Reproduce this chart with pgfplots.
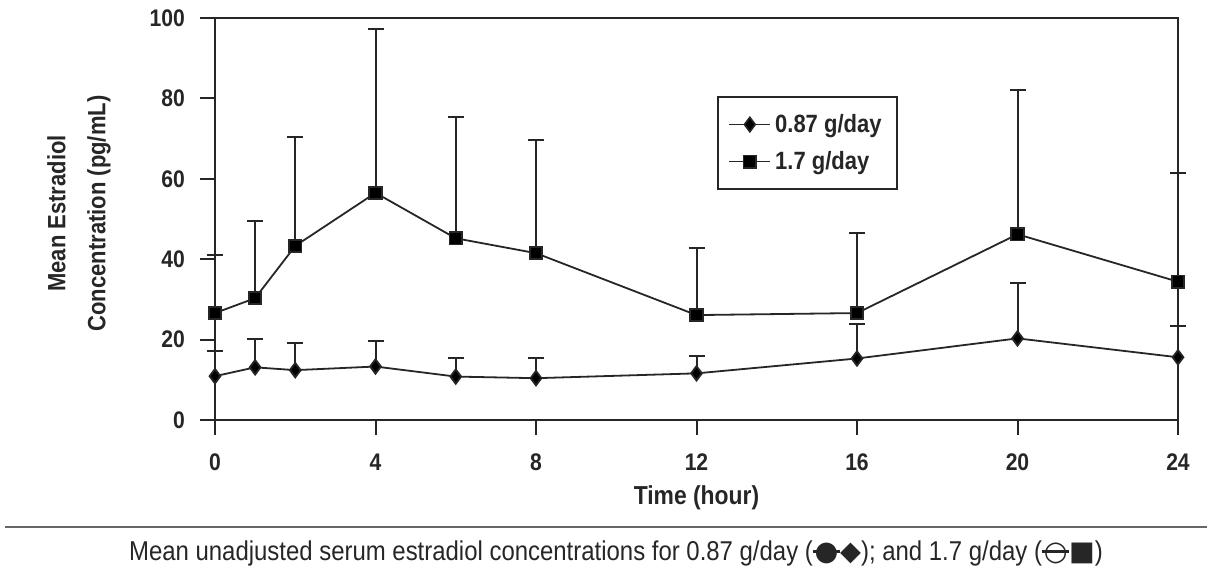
\documentclass[border=0pt]{standalone}
\usepackage{pgfplots}
\usepackage{pgfplotstable}
\pgfplotsset{compat=1.18}
\usepackage{fontspec}
\setmainfont{Liberation Sans}[FakeStretch=0.88]
\newfontfamily\sym{DejaVu Sans}
\pgfplotstableread{
t y e
0 10.9 6.3
1 13.1 7.0
2 12.4 6.8
4 13.3 6.4
6 10.8 4.7
8 10.4 5.1
12 11.6 4.3
16 15.3 8.6
20 20.3 13.9
24 15.6 7.8
}\lowdose
\pgfplotstableread{
t y e
0 26.6 14.4
1 30.3 19.3
2 43.3 27.0
4 56.5 40.7
6 45.2 30.2
8 41.5 28.2
12 26.1 16.8
16 26.6 20.0
20 46.2 36.0
24 34.4 27.1
}\highdose
\begin{document}
\begin{tikzpicture}[x=1pt,y=1pt]
\path[use as bounding box] (0,0) rectangle (606,286.5);
\begin{axis}[
  at={(107.5pt,76.5pt)}, anchor=south west,
  scale only axis, width=481.5pt, height=201pt,
  xmin=0, xmax=24, ymin=0, ymax=100,
  xtick={0,4,...,24}, ytick={0,20,...,100},
  xtick pos=bottom, ytick pos=left,
  tick align=outside, major tick length=7.5pt,
  tick style={line width=1pt, black!85},
  axis line style={line width=1pt, black!85},
  clip=false,
  ticklabel style={font=\bfseries\fontsize{12}{14}\selectfont, text=black!85},
  xticklabel style={yshift=-6pt},
  yticklabel style={xshift=-4pt},
  /pgf/number format/assume math mode=true,
  xlabel={Time (hour)},
  xlabel style={at={(axis description cs:0.5,0)}, anchor=center, yshift=-39pt, font=\bfseries\fontsize{13}{15}\selectfont, text=black!85},
  ylabel={Mean Estradiol\\Concentration (pg/mL)},
  ylabel style={at={(axis description cs:0,0.5)}, anchor=center, xshift=2.75pt, yshift=68pt, align=center, font=\bfseries\fontsize{12.5}{20}\selectfont, text=black!85},
  legend style={at={(axis cs:12.5,80.6)}, anchor=north west, draw=black!85, line width=1pt, font=\bfseries\fontsize{12.5}{14}\selectfont, text=black!85, inner xsep=5.5pt, inner ysep=6.5pt, row sep=4pt, legend cell align=left},
  legend image code/.code={\draw[mark repeat=2,mark phase=2] plot coordinates {(0pt,0pt) (10.25pt,0pt) (20.5pt,0pt)};},
  legend image post style={line width=0.8pt},
  error bars/error bar style={line width=1pt, black!85},
  error bars/error mark options={rotate=90, mark size=4pt, line width=1pt, black!85},
  every axis plot/.append style={line width=0.9pt, black!85},
]
\addplot[mark=diamond*, mark size=3.6pt, mark options={solid, fill=black},
  error bars/.cd, y dir=plus, y explicit, error mark=-]
  table[x=t, y=y, y error=e] {\lowdose};
\addlegendentry{0.87 g/day\hspace{6pt}}
\addplot[mark=square*, mark size=3.1pt, mark options={solid, fill=black},
  error bars/.cd, y dir=plus, y explicit, error mark=-]
  table[x=t, y=y, y error=e] {\highdose};
\addlegendentry{1.7 g/day}
\end{axis}
\draw[line width=1.2pt, black!60] (2.5,23) -- (603.5,23);
\node[anchor=base, font=\fontsize{13.6}{15}\selectfont, text=black!85, inner sep=0pt] at (308,6) {Mean unadjusted serum estradiol concentrations for 0.87 g/day ({\sym\ooalign{\hfil\rule[0.3em]{1.0em}{0.09em}\hfil\cr\hfil●\hfil}◆}); and 1.7 g/day ({\sym\ooalign{\hfil\rule[0.3em]{1.0em}{0.09em}\hfil\cr\hfil○\hfil}■})};
\end{tikzpicture}
\end{document}
